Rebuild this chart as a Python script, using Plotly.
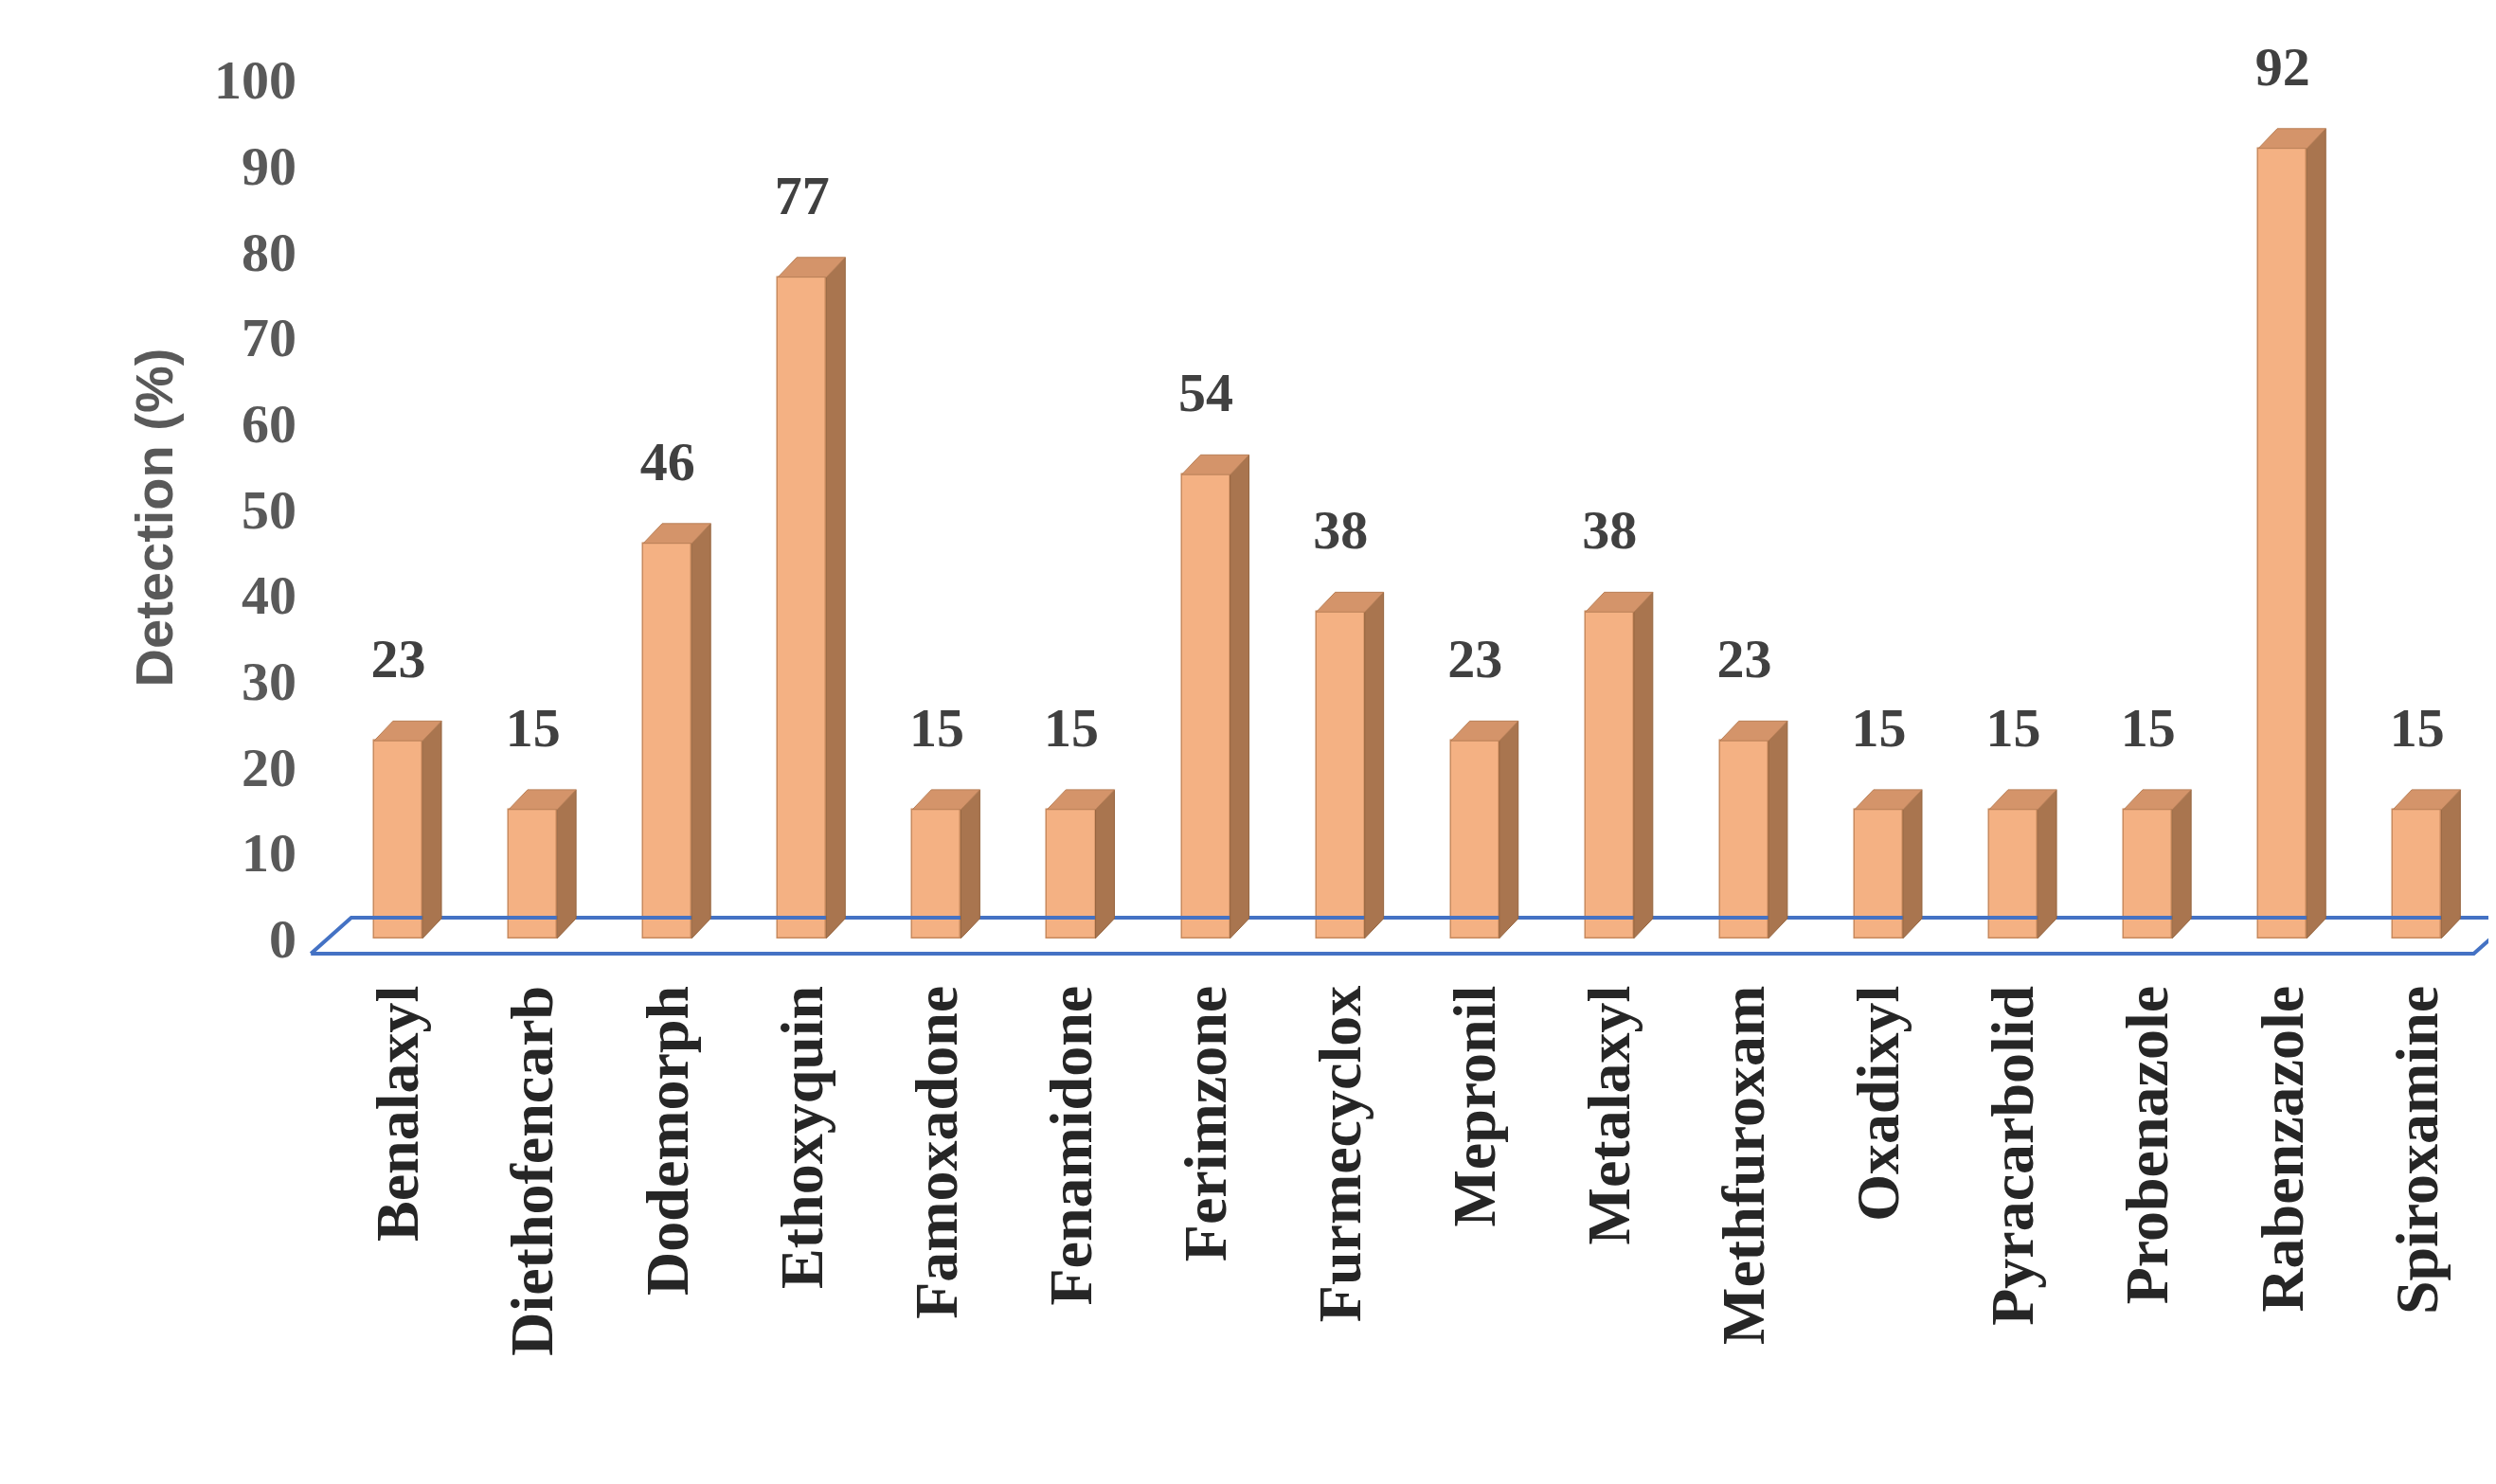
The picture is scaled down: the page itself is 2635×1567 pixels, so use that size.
import plotly.graph_objects as go

categories = ["Benalaxyl","Diethofencarb","Dodemorph","Ethoxyquin","Famoxadone","Fenamidone",
              "Ferimzone","Furmecyclox","Mepronil","Metalaxyl","Methfuroxam","Oxadixyl",
              "Pyracarbolid","Probenazole","Rabenzazole","Spiroxamine"]
values = [23,15,46,77,15,15,54,38,23,38,23,15,15,15,92,15]

W = 0.36; DX = 0.14; DY = 2.3
xs = list(range(len(categories)))

fig = go.Figure()
fig.add_trace(go.Scatter(x=[-0.65, 15.42, 15.42+0.3, -0.65+0.3, -0.65],
                         y=[-1.8, -1.8, 2.4, 2.4, -1.8], mode="lines", fill="toself",
                         fillcolor="rgba(255,255,255,0)", line=dict(color="#4472C4", width=4),
                         hoverinfo="skip"))
fig.add_trace(go.Bar(x=xs, y=values, width=W, marker=dict(color="#F4B183", line=dict(color="#C88A5E", width=1.5))))
sx, sy, tx, ty = [], [], [], []
for x, v in zip(xs, values):
    r = x + W/2; l = x - W/2
    sx += [r, r+DX, r+DX, r, r, None]; sy += [0, DY, v+DY, v, 0, None]
    tx += [l, r, r+DX, l+DX, l, None]; ty += [v, v, v+DY, v+DY, v, None]
fig.add_trace(go.Scatter(x=sx, y=sy, mode="lines", fill="toself", fillcolor="#A9754F",
                         line=dict(color="#96653F", width=1), hoverinfo="skip"))
fig.add_trace(go.Scatter(x=tx, y=ty, mode="lines", fill="toself", fillcolor="#D4946A",
                         line=dict(color="#B98058", width=1), hoverinfo="skip"))
fig.add_trace(go.Scatter(x=xs, y=[v+9 for v in values], mode="text", text=[str(v) for v in values],
                         textfont=dict(family="Liberation Serif", size=58, color="#404040", weight="bold"),
                         textposition="middle center", hoverinfo="skip", cliponaxis=False))

fig.update_layout(width=2635, height=1567, showlegend=False, plot_bgcolor="white", paper_bgcolor="white",
                  margin=dict(l=306, r=13, t=58, b=548), bargap=0)
fig.update_xaxes(range=[-0.75, 15.55], tickvals=xs, ticktext=categories, tickangle=-90,
                 tickfont=dict(family="Liberation Serif", size=64, color="#262626", weight="bold"),
                 showgrid=False, zeroline=False, showline=False, ticks="")
fig.update_yaxes(range=[-4, 102], tickvals=list(range(0, 101, 10)), showgrid=False, zeroline=False,
                 showline=False, tickfont=dict(family="Liberation Serif", size=58, color="#595959", weight="bold"),
                 title=dict(text="<b>Detection (%)</b>", font=dict(family="Liberation Sans", size=56, color="#595959"), standoff=25))
fig.write_html("out.html")
